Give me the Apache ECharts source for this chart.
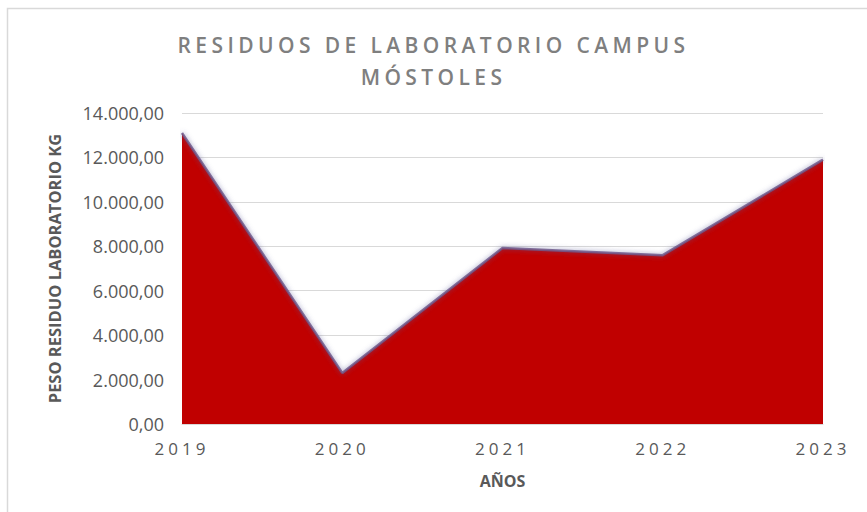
<!DOCTYPE html>
<html>
<head>
<meta charset="utf-8">
<script src="https://cdn.jsdelivr.net/npm/echarts@6/dist/echarts.min.js"></script>
<style>
html,body{margin:0;padding:0;background:#fff;}
#c{width:867px;height:512px;}
#c text[style*="21px"]{letter-spacing:4.4px;}
#c text[style*="17px"]{letter-spacing:4px;}
</style>
</head>
<body>
<div id="c"></div>
<script>
var categories = ['2019', '2020', '2021', '2022', '2023'];
var pesoValues = [13100, 2300, 7920, 7600, 11900];
var yTicks = [0, 2000, 4000, 6000, 8000, 10000, 12000, 14000];

function fmt(v) {
  var s = Math.round(v).toString().replace(/\B(?=(\d{3})+(?!\d))/g, '.');
  return s + ',00';
}

var chart = echarts.init(document.getElementById('c'), null, {renderer: 'svg'});
chart.setOption({
  backgroundColor: '#ffffff',
  animation: false,
  title: {
    text: 'RESIDUOS DE LABORATORIO CAMPUS\nMÓSTOLES',
    left: 'center',
    top: 24,
    textStyle: {
      fontFamily: 'Open Sans',
      fontSize: 21,
      fontWeight: 600,
      color: '#7f7f7f',
      lineHeight: 32
    }
  },
  graphic: [{
    type: 'rect',
    shape: {x: 7.5, y: 8.5, width: 900, height: 600},
    style: {fill: 'none', stroke: '#d9d9d9', lineWidth: 1.5},
    silent: true, z: -1
  }],
  grid: {left: 182, right: 44, top: 113, bottom: 88},
  xAxis: {
    type: 'category',
    data: categories,
    boundaryGap: false,
    name: 'AÑOS',
    nameLocation: 'middle',
    nameGap: 49,
    nameTextStyle: {fontFamily: 'Open Sans', fontSize: 16, fontWeight: 'bold', color: '#595959'},
    axisLine: {show: true, lineStyle: {color: '#d9d9d9'}},
    axisTick: {show: false},
    axisLabel: {fontFamily: 'Open Sans', fontSize: 17, color: '#595959', margin: 16}
  },
  yAxis: {
    type: 'value',
    min: 0,
    max: 14000,
    interval: 2000,
    name: 'PESO RESIDUO LABORATORIO KG',
    nameLocation: 'middle',
    nameGap: 119,
    nameTextStyle: {fontFamily: 'Open Sans', fontSize: 16.5, fontWeight: 'bold', color: '#595959'},
    axisLine: {show: false},
    axisTick: {show: false},
    splitLine: {lineStyle: {color: '#d9d9d9', width: 1}},
    axisLabel: {fontFamily: 'Open Sans', fontSize: 18, color: '#595959', margin: 18, formatter: fmt}
  },
  series: [{
    type: 'line',
    data: pesoValues,
    symbol: 'none',
    lineStyle: {color: 'rgba(110,90,140,0.85)', width: 2.5, shadowColor: 'rgba(90,90,150,0.7)', shadowBlur: 5},
    areaStyle: {color: '#c00000', opacity: 1},
    z: 2
  }]
});
</script>
</body>
</html>
